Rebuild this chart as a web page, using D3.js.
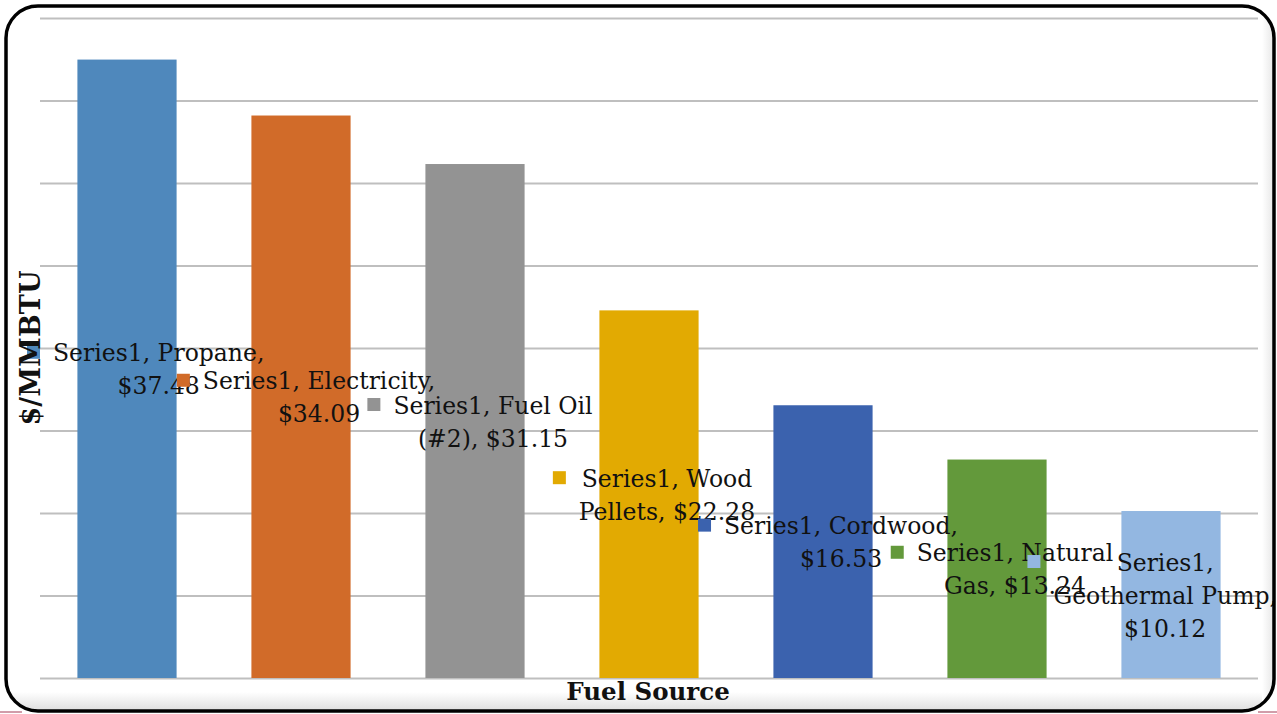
<!DOCTYPE html>
<html>
<head>
<meta charset="utf-8">
<script src="https://cdn.jsdelivr.net/npm/d3@7"></script>
<style>
  html, body { margin: 0; padding: 0; background: #ffffff; }
  svg { display: block; }
</style>
</head>
<body>
<svg id="chart" width="1277" height="714"></svg>
<script>
// Heating fuel cost comparison, $ per million BTU
const categories = ["Propane", "Electricity", "Fuel Oil (#2)", "Wood Pellets", "Cordwood", "Natural Gas", "Geothermal Pump"];
const values = [37.48, 34.09, 31.15, 22.28, 16.53, 13.24, 10.12];
const seriesName = "Series1";
const barColors = ["#4f88bc", "#d16b29", "#939393", "#e2aa02", "#3b62ae", "#63993b", "#93b7e1"];
// Wrapped data-label lines for each bar
const labelLines = [
  ["Series1, Propane,", "$37.48"],
  ["Series1, Electricity,", "$34.09"],
  ["Series1, Fuel Oil", "(#2), $31.15"],
  ["Series1, Wood", "Pellets, $22.28"],
  ["Series1, Cordwood,", "$16.53"],
  ["Series1, Natural", "Gas, $13.24"],
  ["Series1,", "Geothermal Pump,", "$10.12"]
];
const yTicks = [0, 5, 10, 15, 20, 25, 30, 35, 40];
const yTitle = "$/MMBTU";
const xTitle = "Fuel Source";

const W = 1277, H = 714;
const plot = { left: 40, right: 1258, top: 18, bottom: 678 };
const svg = d3.select("#chart");
const defs = svg.append("defs");

// Frame: rounded panel with soft shading on the bottom and right edges
const frame = { x: 6, y: 6, w: 1268, h: 705, r: 32 };
defs.append("clipPath").attr("id", "frameClip")
  .append("rect").attr("x", frame.x).attr("y", frame.y)
  .attr("width", frame.w).attr("height", frame.h).attr("rx", frame.r);
const gBottom = defs.append("linearGradient").attr("id", "shadeBottom")
  .attr("x1", 0).attr("y1", 0).attr("x2", 0).attr("y2", 1);
gBottom.append("stop").attr("offset", "0%").attr("stop-color", "#ffffff");
gBottom.append("stop").attr("offset", "100%").attr("stop-color", "#dcdcdc");
const gRight = defs.append("linearGradient").attr("id", "shadeRight")
  .attr("x1", 0).attr("y1", 0).attr("x2", 1).attr("y2", 0);
gRight.append("stop").attr("offset", "0%").attr("stop-color", "#ffffff");
gRight.append("stop").attr("offset", "100%").attr("stop-color", "#e2e2e2");

svg.append("rect").attr("x", 0).attr("y", 0).attr("width", W).attr("height", H).attr("fill", "#ffffff");
const shade = svg.append("g").attr("clip-path", "url(#frameClip)");
shade.append("rect").attr("x", frame.x).attr("y", 692).attr("width", frame.w).attr("height", 20)
  .attr("fill", "url(#shadeBottom)");
shade.append("rect").attr("x", 1262).attr("y", frame.y).attr("width", 14).attr("height", frame.h)
  .attr("fill", "url(#shadeRight)");

// Scales
const x = d3.scaleBand().domain(categories).range([plot.left, plot.right]).paddingInner(0.43).paddingOuter(0.215);
const y = d3.scaleLinear().domain([0, 40]).range([plot.bottom, plot.top]);

// Horizontal gridlines
const grid = svg.append("g").attr("transform", `translate(${plot.left},0)`)
  .call(d3.axisLeft(y).tickValues(yTicks).tickSize(-(plot.right - plot.left)).tickFormat(""));
grid.select(".domain").remove();
grid.selectAll(".tick line").attr("stroke", "#bfbfbf").attr("stroke-width", 2.2);

// Bars
svg.append("g").selectAll("rect").data(categories).join("rect")
  .attr("x", d => x(d))
  .attr("y", (d, i) => y(values[i]))
  .attr("width", x.bandwidth())
  .attr("height", (d, i) => y(0) - y(values[i]))
  .attr("fill", (d, i) => barColors[i]);

// Data labels with legend keys, centred in each bar
const fontFamily = "'DejaVu Serif', 'Liberation Serif', serif";
const fontSize = 23.5;
const lineH = 33;
const keySize = 13, keyGap = 13;
const labels = svg.append("g").attr("font-family", fontFamily).attr("font-size", fontSize).attr("fill", "#111");

categories.forEach((cat, i) => {
  const lines = labelLines[i];
  const g = labels.append("g");
  const texts = lines.map(t => g.append("text").text(t));
  const widths = texts.map(t => t.node().getComputedTextLength());
  const textW = d3.max(widths);
  const blockW = keySize + keyGap + textW;
  const cx = x(cat) + x.bandwidth() / 2 + 5;
  const left = Math.max(27, Math.min(W - blockW, cx - blockW / 2));
  const cy = (y(values[i]) + y(0)) / 2;
  const top = cy - lines.length * lineH / 2;
  const textCx = left + keySize + keyGap + textW / 2;
  texts.forEach((t, k) => {
    t.attr("x", textCx).attr("y", top + lineH * k + lineH / 2 + 9).attr("text-anchor", "middle");
  });
  g.insert("rect", "text")
    .attr("x", left).attr("y", top + lineH / 2 - keySize / 2)
    .attr("width", keySize).attr("height", keySize)
    .attr("fill", barColors[i]);
});

// Axis titles
svg.append("text")
  .attr("transform", `translate(40,348) rotate(-90)`)
  .attr("text-anchor", "middle")
  .attr("font-family", fontFamily).attr("font-weight", "bold").attr("font-size", 27)
  .attr("fill", "#111").text(yTitle);
svg.append("text")
  .attr("x", 648).attr("y", 700)
  .attr("text-anchor", "middle")
  .attr("font-family", fontFamily).attr("font-weight", "bold").attr("font-size", 24.5)
  .attr("fill", "#111").text(xTitle);

// Frame outline
svg.append("rect").attr("x", frame.x).attr("y", frame.y)
  .attr("width", frame.w).attr("height", frame.h).attr("rx", frame.r)
  .attr("fill", "none").attr("stroke", "#000").attr("stroke-width", 3.5);
// Thin accent lines at the lower corners
svg.append("line").attr("x1", 0).attr("x2", 22).attr("y1", 712).attr("y2", 712)
  .attr("stroke", "#a33a55").attr("stroke-width", 1);
svg.append("line").attr("x1", 1258).attr("x2", 1277).attr("y1", 712).attr("y2", 712)
  .attr("stroke", "#a33a55").attr("stroke-width", 1);
</script>
</body>
</html>
